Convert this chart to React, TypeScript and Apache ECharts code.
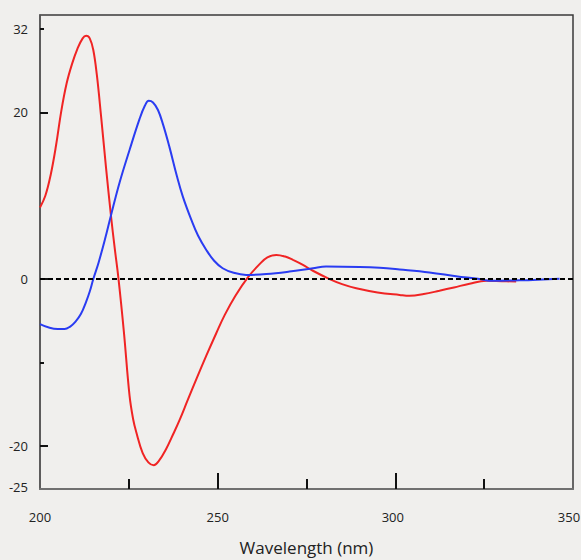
import React, { useEffect, useRef } from "react";
import * as echarts from "echarts";

// Red spectrum
const redWavelength = [200.0, 201.5, 203.0, 204.5, 206.0, 207.5, 209.0, 210.5, 212.0, 213.0, 214.0, 215.0, 216.0, 217.2, 218.6, 220.0, 221.0, 222.1, 223.6, 225.2, 226.2, 227.1, 228.9, 230.5, 232.0, 233.5, 235.5, 237.5, 239.3, 241.5, 244.0, 246.8, 249.6, 252.0, 255.0, 258.5, 261.8, 264.0, 266.5, 269.0, 271.2, 274.0, 276.8, 281.5, 285.0, 289.0, 295.0, 301.2, 304.0, 308.0, 312.4, 316.5, 320.9, 325.6, 330.0, 334.0];
const redValues = [8.6, 10.0, 12.5, 16.0, 20.2, 23.5, 25.8, 27.6, 28.9, 29.2, 28.9, 27.5, 24.5, 19.5, 13.3, 7.5, 3.8, 0, -6.3, -14.0, -16.8, -18.4, -20.9, -22.0, -22.35, -21.8, -20.4, -18.6, -16.9, -14.6, -12.0, -9.2, -6.5, -4.3, -2.0, 0.2, 1.8, 2.6, 2.9, 2.7, 2.3, 1.7, 1.0, 0, -0.6, -1.1, -1.6, -1.9, -2.0, -1.8, -1.4, -1.0, -0.55, -0.2, -0.25, -0.3];

// Blue spectrum
const blueWavelength = [200.0, 202.7, 205.0, 206.9, 208.5, 210.0, 211.5, 213.0, 214.0, 215.0, 216.5, 218.3, 220.0, 222.4, 225.2, 228.0, 229.5, 230.6, 231.8, 233.2, 234.6, 236.4, 238.5, 240.2, 242.6, 244.5, 246.8, 249.0, 251.4, 254.5, 258.0, 263.7, 270.2, 276.8, 280.5, 289.9, 295.6, 301.2, 309.6, 317.1, 323.7, 326.5, 335.0, 346.2];
const blueValues = [-5.4, -5.85, -6.0, -6.0, -5.7, -5.1, -4.2, -2.7, -1.5, 0, 2.0, 4.8, 7.7, 11.6, 15.5, 19.2, 20.8, 21.4, 21.2, 20.3, 18.6, 15.9, 12.4, 9.9, 7.1, 5.2, 3.5, 2.2, 1.3, 0.75, 0.5, 0.6, 0.9, 1.3, 1.5, 1.45, 1.35, 1.15, 0.8, 0.35, 0, -0.2, -0.15, 0.05];

// Axes
const xMin = 200;
const xMax = 350;
const xMajorTicks = [250, 300];
const xMinorTicks = [225, 275, 325];
const yMin = -25.2;
const yMax = 31.7;
const yLabelValues = [30, 20, 0, -20, -25];
const yLabelTexts = ["32", "20", "0", "-20", "-25"];
const yMajorTicks = [20, 0, -20];
const yMinorTicks = [30, -10];
const xTitle = "Wavelength (nm)";

const FONT = "'Open Sans', 'Noto Sans', sans-serif";

export default function App() {
  const ref = useRef<HTMLDivElement>(null);
  useEffect(() => {
    if (!ref.current) return;
    const chart = echarts.init(ref.current, null, { renderer: "svg" });
    const red = redWavelength.map((w, i) => [w, redValues[i]]);
    const blue = blueWavelength.map((w, i) => [w, blueValues[i]]);
    chart.setOption({
      animation: false,
      backgroundColor: "#f0efed",
      grid: {
        left: 40,
        top: 15,
        right: 8,
        bottom: 71,
        containLabel: false,
        outerBoundsMode: "none",
        show: true,
        borderColor: "#3a3a3a",
        borderWidth: 1.5,
        backgroundColor: "transparent",
      },
      xAxis: [
        {
          type: "value",
          min: xMin,
          max: xMax,
          interval: 50,
          name: xTitle,
          nameLocation: "middle",
          nameGap: 50,
          nameTextStyle: { fontFamily: FONT, fontSize: 17, color: "#222" },
          axisLine: { show: true, onZero: false, lineStyle: { color: "#707070", width: 2 } },
          axisTick: { show: true, inside: true, length: 16, customValues: xMajorTicks, lineStyle: { color: "#111", width: 2 } },
          axisLabel: {
            show: true,
            margin: 21,
            fontFamily: FONT,
            fontSize: 13,
            color: "#222",
            formatter: (v: number) => (v === 350 ? "{r|350}" : v === 300 ? "{m|300}" : String(v)),
            rich: {
              r: { fontFamily: FONT, fontSize: 13, color: "#222", padding: [0, 8, 0, 0] },
              m: { fontFamily: FONT, fontSize: 13, color: "#222", padding: [0, 5, 0, 0] },
            },
          },
          splitLine: { show: false },
        },
        {
          type: "value",
          min: xMin,
          max: xMax,
          position: "bottom",
          offset: 0,
          axisLine: { show: false, onZero: false },
          axisTick: { show: true, inside: true, length: 10, customValues: xMinorTicks, lineStyle: { color: "#111", width: 2 } },
          axisLabel: { show: false },
          splitLine: { show: false },
        },
      ],
      yAxis: [
        {
          type: "value",
          min: yMin,
          max: yMax,
          position: "left",
          offset: 0,
          axisLine: { show: true, onZero: false, lineStyle: { color: "#5a5a5a", width: 1.5 } },
          axisTick: { show: true, inside: true, length: 8, customValues: yMajorTicks, lineStyle: { color: "#111", width: 2 } },
          axisLabel: {
            show: true,
            margin: 12,
            fontFamily: FONT,
            fontSize: 13,
            color: "#222",
            customValues: yLabelValues,
            formatter: (v: number) => {
              const i = yLabelValues.indexOf(v);
              return i >= 0 ? yLabelTexts[i] : "";
            },
          },
          splitLine: { show: false },
        },
        {
          type: "value",
          min: yMin,
          max: yMax,
          position: "left",
          offset: 0,
          axisLine: { show: false, onZero: false },
          axisTick: { show: true, inside: true, length: 4, customValues: yMinorTicks, lineStyle: { color: "#111", width: 2 } },
          axisLabel: { show: false },
          splitLine: { show: false },
        },
      ],
      series: [
        {
          type: "line",
          data: red,
          xAxisIndex: 0,
          yAxisIndex: 0,
          smooth: 0.4,
          showSymbol: false,
          symbol: "none",
          lineStyle: { color: "#f02424", width: 2 },
          z: 3,
          markLine: {
            silent: true,
            symbol: "none",
            label: { show: false },
            lineStyle: { color: "#000", type: [5, 3], width: 2 },
            data: [{ yAxis: 0 }],
          },
        },
        {
          type: "line",
          data: blue,
          xAxisIndex: 0,
          yAxisIndex: 0,
          smooth: 0.4,
          showSymbol: false,
          symbol: "none",
          lineStyle: { color: "#2a3cf2", width: 2 },
          z: 4,
        },
      ],
    });
    return () => chart.dispose();
  }, []);
  return <div ref={ref} style={{ position: "fixed", left: 0, top: 0, width: 581, height: 560 }} />;
}
